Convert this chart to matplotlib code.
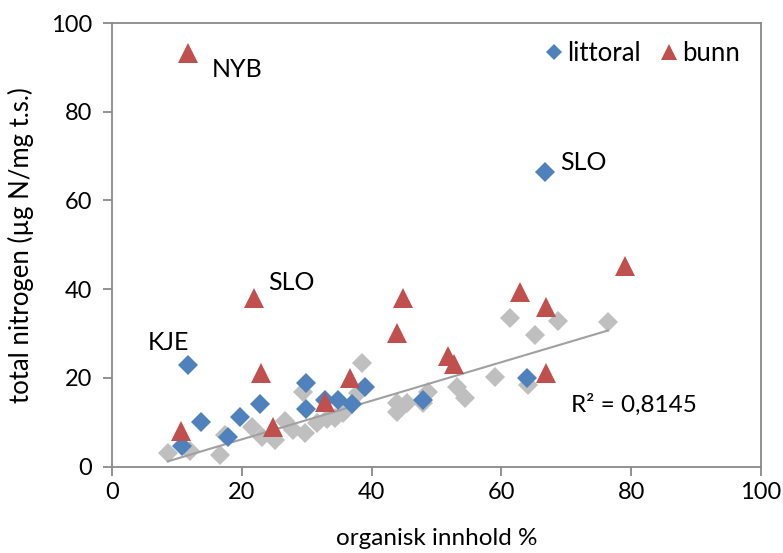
import matplotlib
matplotlib.use('Agg')
import matplotlib.pyplot as plt
import numpy as np

# gray series (all samples) -- trendline is fitted to these
gray_x = [8.6, 12.0, 16.6, 17.4, 21.6, 23.1, 25.1, 26.7, 27.9, 29.7,
          29.4, 31.6, 33.1, 34.4, 35.6, 38.5, 37.9, 43.9, 43.9, 45.5,
          48.7, 47.9, 53.2, 54.4, 59.0, 61.3, 65.2, 68.7, 76.4, 64.1]
gray_y = [3.0, 3.5, 2.6, 7.1, 8.9, 6.7, 6.0, 10.3, 8.2, 7.6,
          16.8, 9.8, 10.7, 10.9, 12.0, 23.4, 16.6, 14.3, 12.3, 14.3,
          16.8, 14.3, 17.9, 15.5, 20.2, 33.5, 29.7, 32.8, 32.6, 18.4]

littoral_x = [11.7, 10.8, 13.7, 17.9, 19.7, 22.8, 29.9, 29.9, 32.8, 34.8,
              37.0, 39.0, 47.9, 66.7, 63.9]
littoral_y = [22.9, 4.6, 10.0, 6.7, 11.2, 14.1, 18.8, 13.0, 15.0, 15.0,
              14.1, 17.9, 15.0, 66.3, 20.0]

bunn_x = [11.7, 21.9, 23.0, 10.6, 24.8, 32.8, 36.7, 43.9, 44.8, 51.8,
          52.7, 62.9, 66.9, 66.9, 79.0]
bunn_y = [93.3, 38.0, 21.1, 8.0, 8.9, 14.6, 20.0, 30.1, 38.0, 24.9,
          23.1, 39.4, 36.0, 21.1, 45.3]

labels = ['NYB', 'SLO', 'SLO', 'KJE']
label_x = [15.4, 69.0, 24.0, 5.5]
label_y = [89.5, 68.5, 41.4, 27.9]
r2_text = 'R² = 0,8145'

plt.rcParams['font.family'] = ['Lato', 'DejaVu Sans']

fig = plt.figure(figsize=(7.83, 5.53), dpi=100, facecolor='white')
ax = fig.add_axes([0.143, 0.1564, 0.829, 0.802])

blue = '#4F81BD'
red = '#C0504D'
gray = '#BFBFBF'
fs = 17.5

ax.plot(gray_x, gray_y, 'D', color=gray, markersize=9.8, markeredgewidth=0,
        linestyle='none', zorder=2)

coef = np.polyfit(gray_x, gray_y, 1)
xx = np.array([min(gray_x), max(gray_x)])
ax.plot(xx, np.polyval(coef, xx), color='#A0A0A0', linewidth=1.5, zorder=2.5)

ax.plot(littoral_x, littoral_y, 'D', color=blue, markersize=9.8,
        markeredgewidth=0, linestyle='none', label='littoral', zorder=3)
ax.plot(bunn_x, bunn_y, '^', color=red, markersize=14,
        markeredgewidth=0, linestyle='none', label='bunn', zorder=4)

for t, x, y in zip(labels, label_x, label_y):
    ax.text(x, y, t, fontsize=fs + 0.5, va='center', ha='left')
ax.text(70.7, 13.9, r2_text, fontsize=fs, va='center', ha='left')

ax.set_xlim(0, 100)
ax.set_ylim(0, 100)
ax.set_xticks(range(0, 101, 20))
ax.set_yticks(range(0, 101, 20))
ax.tick_params(direction='out', length=6.5, width=1.3, color='#898989',
               labelsize=17, pad=5)
ax.tick_params(axis='y', pad=8)
for s in ax.spines.values():
    s.set_color('#898989')
    s.set_linewidth(1.3)

ax.set_xlabel('organisk innhold %', fontsize=fs, labelpad=18)
ax.set_ylabel('total nitrogen (µg N/mg t.s.)', fontsize=18.5, labelpad=12)

ax.legend(loc='upper right', ncol=2, frameon=False, fontsize=18.5,
          handletextpad=0.0, columnspacing=0.6, borderaxespad=0.3,
          bbox_to_anchor=(0.995, 1.0),
          handlelength=1.0, markerscale=0.8)

fig.savefig('out.png', dpi=100, facecolor='white')
